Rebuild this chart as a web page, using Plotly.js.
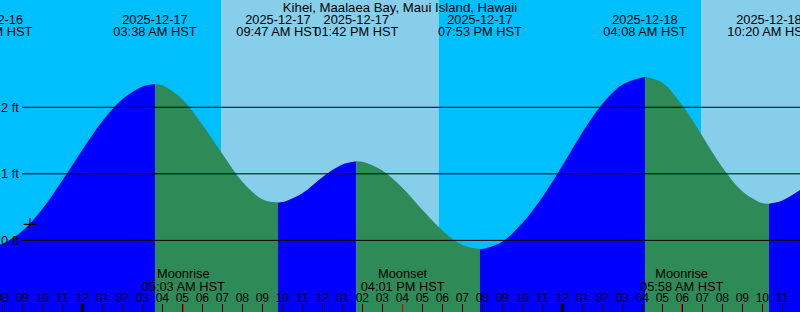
<!DOCTYPE html>
<html>
<head>
<meta charset="utf-8">
<script src="https://cdn.plot.ly/plotly-3.0.1.min.js"></script>
<style>html,body{margin:0;padding:0;background:#00BFFF;}#chart{width:800px;height:312px;}</style>
</head>
<body>
<div id="chart"></div>
<script>
// ---- data ----
const stationName = 'Kihei, Maalaea Bay, Maui Island, Hawaii';

const tideEventTimes = ['2025-12-16 19:24', '2025-12-17 03:38', '2025-12-17 09:47', '2025-12-17 13:42', '2025-12-17 19:53', '2025-12-18 04:08', '2025-12-18 10:20'];
const tideEventHeights = [-0.08, 2.35, 0.57, 1.19, -0.13, 2.46, 0.55];
const tideEventDates = ['2025-12-16', '2025-12-17', '2025-12-17', '2025-12-17', '2025-12-17', '2025-12-18', '2025-12-18'];
const tideEventClock = ['07:24 PM HST', '03:38 AM HST', '09:47 AM HST', '01:42 PM HST', '07:53 PM HST', '04:08 AM HST', '10:20 AM HST'];

const curveTimes = [
  '2025-12-16 19:24', '2025-12-16 20:00', '2025-12-16 21:00', '2025-12-16 22:00', '2025-12-16 23:00',
  '2025-12-17 00:00', '2025-12-17 01:00', '2025-12-17 02:00', '2025-12-17 03:00', '2025-12-17 03:38',
  '2025-12-17 04:00', '2025-12-17 05:00', '2025-12-17 06:00', '2025-12-17 07:00', '2025-12-17 08:00',
  '2025-12-17 09:00', '2025-12-17 09:47', '2025-12-17 10:00', '2025-12-17 11:00', '2025-12-17 12:00',
  '2025-12-17 13:00', '2025-12-17 13:42', '2025-12-17 14:00', '2025-12-17 15:00', '2025-12-17 16:00',
  '2025-12-17 17:00', '2025-12-17 18:00', '2025-12-17 19:00', '2025-12-17 19:53', '2025-12-17 20:00',
  '2025-12-17 21:00', '2025-12-17 22:00', '2025-12-17 23:00', '2025-12-18 00:00', '2025-12-18 01:00',
  '2025-12-18 02:00', '2025-12-18 03:00', '2025-12-18 04:08', '2025-12-18 05:00', '2025-12-18 06:00',
  '2025-12-18 07:00', '2025-12-18 08:00', '2025-12-18 09:00', '2025-12-18 10:00', '2025-12-18 10:20',
  '2025-12-18 11:00', '2025-12-18 12:00'
];
const curveLevels = [
  -0.08, -0.05, 0.14, 0.47, 0.90,
  1.36, 1.79, 2.12, 2.31, 2.35,
  2.33, 2.12, 1.74, 1.30, 0.88,
  0.62, 0.57, 0.575, 0.71, 0.95,
  1.14, 1.19, 1.18, 1.05, 0.79,
  0.46, 0.15, -0.07, -0.13, -0.13,
  -0.02, 0.26, 0.65, 1.12, 1.62,
  2.05, 2.34, 2.46, 2.37, 2.03,
  1.57, 1.10, 0.74, 0.56, 0.55,
  0.60, 0.78
];

const sunriseTimes = ['2025-12-17 06:56', '2025-12-18 06:56'];
const sunsetTimes = ['2025-12-17 17:50', '2025-12-18 17:51'];

const moonTimes = ['2025-12-17 05:03', '2025-12-17 16:01', '2025-12-18 05:58'];
const moonEvents = ['Moonrise', 'Moonset', 'Moonrise'];
const moonClock = ['05:03 AM HST', '04:01 PM HST', '05:58 AM HST'];

const midnightTimes = ['2025-12-17 00:00', '2025-12-18 00:00'];
const nowTime = ['2025-12-16 21:23'];
const nowLevel = [0.24];

const levelTicks = [0, 1, 2];
const levelTickLabels = ['0 ft', '1 ft', '2 ft'];

// ---- layout constants ----
const W = 800, H = 312;
const xRange = ['2025-12-16 19:53:06', '2025-12-18 11:53:06'];
const yRange = [-1.076, 3.612];
const FONT = 'Liberation Sans, Arial, sans-serif';
const FS = 12.8;
const NIGHT = '#00BFFF', DAY = '#87CEEB', RISE = '#0000FF', FALL = '#2E8B57';

function ms(s) { return new Date(s.replace(' ', 'T') + 'Z').getTime(); }
function pf(px) { return 1 - px / H; }

const traces = [];
// tide fill segments between consecutive extremes
const evMs = tideEventTimes.map(ms);
const segBounds = evMs.concat([Infinity]);
for (let s = 0; s < segBounds.length - 1; s++) {
  const a = segBounds[s], b = segBounds[s + 1];
  const xs = [], ys = [];
  curveTimes.forEach((t, i) => {
    const m = ms(t);
    if (m >= a && m <= b) { xs.push(t); ys.push(curveLevels[i]); }
  });
  if (xs.length < 2) continue;
  const rising = s + 1 < tideEventHeights.length ? tideEventHeights[s + 1] > tideEventHeights[s] : tideEventHeights[s] < tideEventHeights[s - 1];
  traces.push({ x: xs, y: xs.map(() => yRange[0]), type: 'scatter', mode: 'lines', line: { width: 0 }, hoverinfo: 'skip', showlegend: false });
  traces.push({ x: xs, y: ys, type: 'scatter', mode: 'lines', line: { width: 0, shape: 'spline', smoothing: 1 }, fill: 'tonexty', fillcolor: rising ? RISE : FALL, hoverinfo: 'skip', showlegend: false });
}

// current-time marker
traces.push({ x: nowTime, y: nowLevel, type: 'scatter', mode: 'markers', marker: { symbol: 'cross-thin', size: 9, line: { width: 1.2, color: '#000' } }, hoverinfo: 'skip', showlegend: false });

function textTrace(xs, txt, py) {
  return { x: xs, y: xs.map(() => pf(py)), yaxis: 'y2', type: 'scatter', mode: 'text', text: txt, textposition: 'middle center', textfont: { family: FONT, size: FS, color: '#000' }, cliponaxis: true, hoverinfo: 'skip', showlegend: false };
}
// tide event labels (top)
traces.push(textTrace(tideEventTimes, tideEventDates, 21));
traces.push(textTrace(tideEventTimes, tideEventClock, 32.8));
// moon labels (bottom)
traces.push(textTrace(moonTimes, moonEvents, 274.8));
traces.push(textTrace(moonTimes, moonClock, 287.5));

const shapes = [];
for (let i = 0; i < sunriseTimes.length; i++) {
  shapes.push({ type: 'rect', xref: 'x', yref: 'paper', x0: sunriseTimes[i], x1: sunsetTimes[i], y0: 0, y1: 1, fillcolor: DAY, line: { width: 0 }, layer: 'below' });
}
levelTicks.forEach(v => {
  shapes.push({ type: 'line', xref: 'paper', yref: 'y', x0: 22 / W, x1: 1, y0: v, y1: v, line: { color: '#000', width: 1 }, layer: 'above' });
});
midnightTimes.forEach(t => {
  shapes.push({ type: 'line', xref: 'x', yref: 'paper', x0: t, x1: t, y0: 0, y1: 8 / H, line: { color: '#000', width: 3 }, layer: 'above' });
});
moonTimes.forEach(t => {
  shapes.push({ type: 'line', xref: 'x', yref: 'paper', x0: t, x1: t, y0: 0, y1: 8 / H, line: { color: '#FF0000', width: 1 }, layer: 'above' });
});

const annotations = levelTicks.map((v, i) => ({
  xref: 'paper', yref: 'y', x: 0, y: v, xanchor: 'left', yanchor: 'middle', showarrow: false,
  text: levelTickLabels[i], font: { family: FONT, size: FS, color: '#000' }, borderpad: 0
}));

const layout = {
  width: W, height: H,
  margin: { l: 0, r: 0, t: 0, b: 0, pad: 0 },
  paper_bgcolor: NIGHT, plot_bgcolor: NIGHT,
  showlegend: false,
  title: { text: stationName, x: 0.5, xanchor: 'center', y: pf(7), yanchor: 'middle', yref: 'container', font: { family: FONT, size: 13.2, color: '#000' } },
  xaxis: {
    type: 'date', range: xRange, tick0: '2025-12-17 00:00', dtick: 3600000, tickformat: '%I',
    ticks: 'inside', ticklen: 8, tickwidth: 1, tickcolor: '#000',
    ticklabelposition: 'inside', ticklabeloverflow: 'allow', ticklabelstandoff: -1,
    tickfont: { family: FONT, size: 12, color: '#000' },
    showgrid: false, zeroline: false, showline: false, layer: 'above traces', fixedrange: true
  },
  yaxis: { range: yRange, showgrid: false, zeroline: false, showticklabels: false, ticks: '', fixedrange: true },
  yaxis2: { overlaying: 'y', range: [0, 1], visible: false, fixedrange: true },
  shapes: shapes,
  annotations: annotations,
  hovermode: false
};

Plotly.newPlot('chart', traces, layout, { staticPlot: true, displayModeBar: false });
</script>
</body>
</html>
